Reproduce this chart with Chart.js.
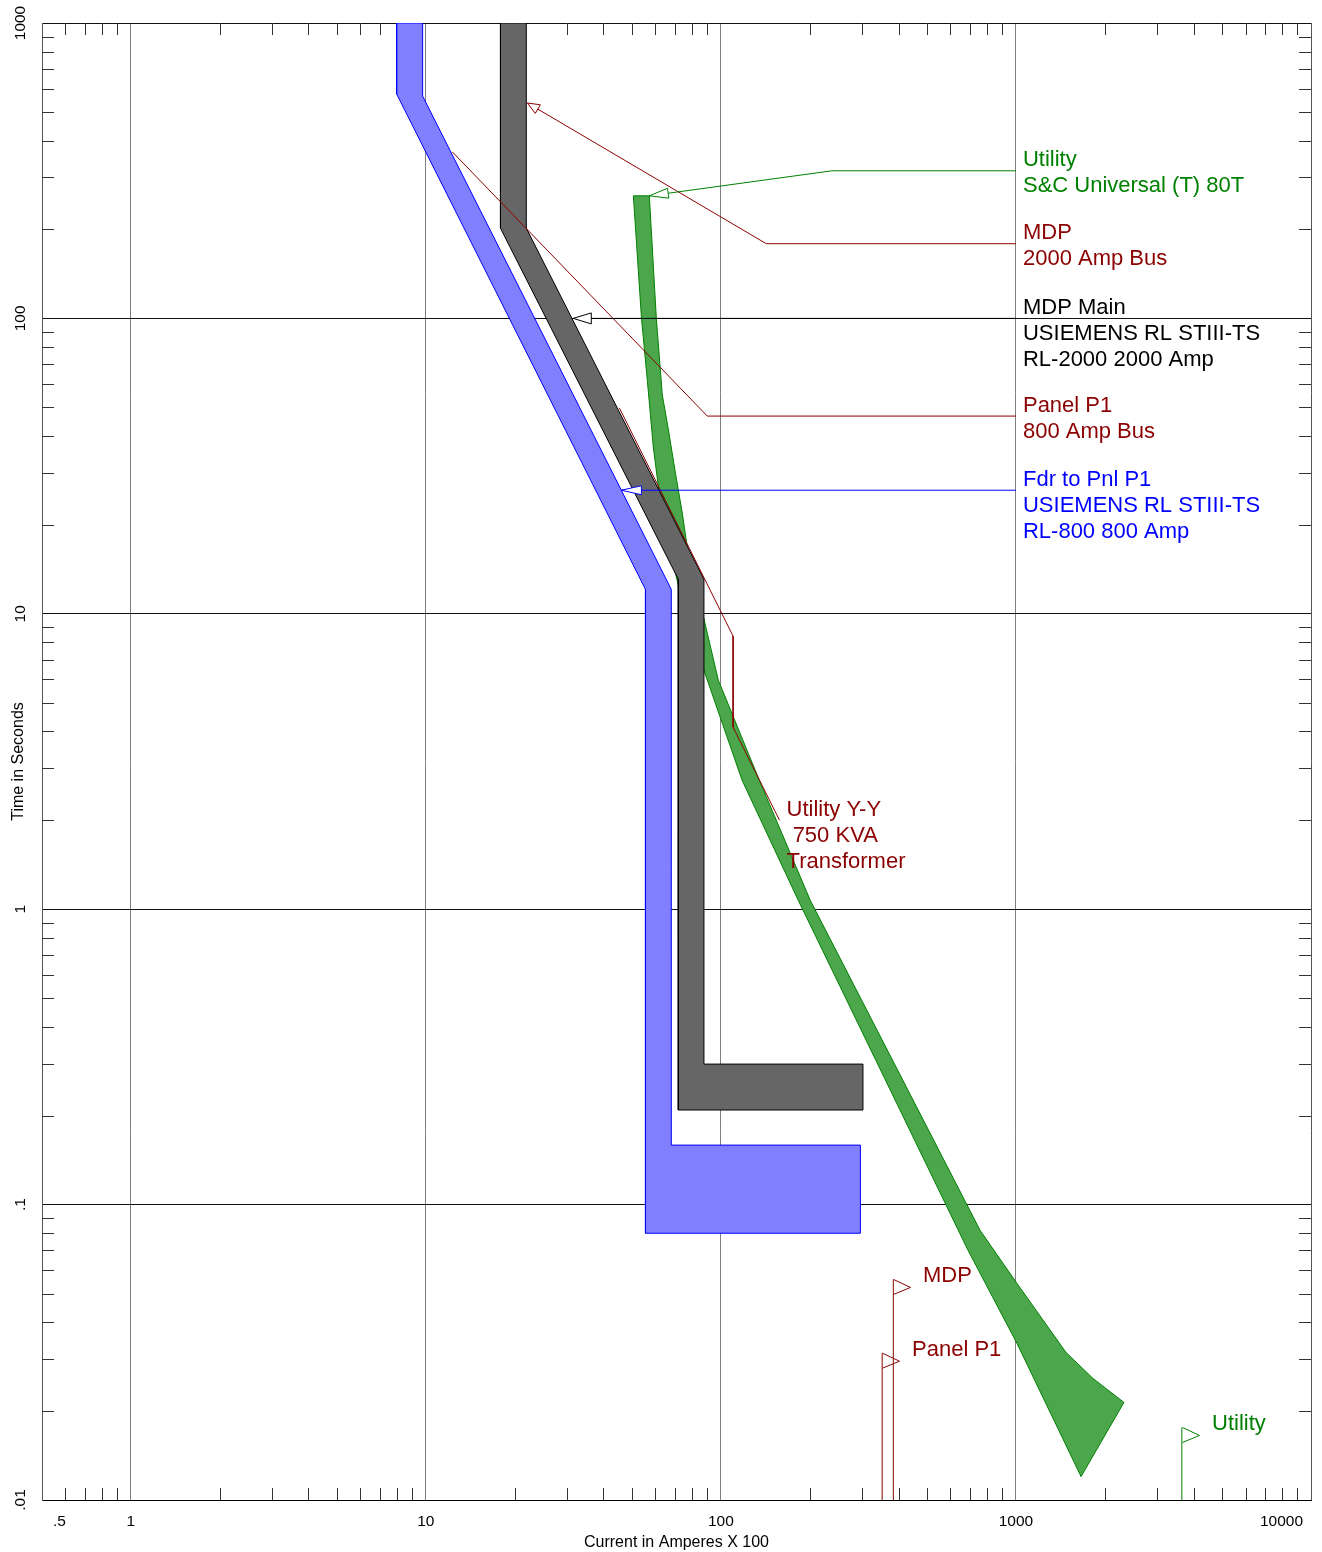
<!DOCTYPE html>
<html><head><meta charset="utf-8">
<script src="https://cdn.jsdelivr.net/npm/chart.js@4.4.1/dist/chart.umd.min.js"></script>
<style>html,body{margin:0;padding:0;background:#fff;}</style>
</head><body>
<canvas id="c" width="1322" height="1552"></canvas>
<script>
const FONT = '"Liberation Sans", Arial, sans-serif';
const GREEN = '#008000', RED = '#8b0000', BLUE = '#0000ff', BLACK = '#000000';

// ---- axes ----
const xMin = 0.5, xMax = 10000, yMin = 0.01, yMax = 1000;
const xTickValues = [0.5, 1, 10, 100, 1000, 10000];
const xTickLabels = ['.5', '1', '10', '100', '1000', '10000'];
const yTickValues = [0.01, 0.1, 1, 10, 100, 1000];
const yTickLabels = ['.01', '.1', '1', '10', '100', '1000'];
const xTitle = 'Current in Amperes X 100';
const yTitle = 'Time in Seconds';

// ---- Utility: S&C Universal (T) 80T fuse band (current x100 A, time s) ----
const utilFuseCurrent = [50.5, 53.8, 56.3, 59.0, 61.4, 64.8, 71.7, 85.2, 118, 183, 688, 1008, 1662,
                         2323, 1824, 1478, 1008, 756, 201, 135, 98.0, 89.9, 76.9, 74.0, 70.1, 66.4, 63.3, 60.4, 57.2, 50.5];
const utilFuseTime    = [260, 100.3, 61.8, 36.7, 26.9, 19.2, 12.5, 6.97, 2.73, 1.07, 0.070, 0.0339, 0.0120,
                         0.0214, 0.0258, 0.0316, 0.0541, 0.0818, 1.07, 2.73, 5.96, 8.60, 16.8, 21.9, 30.0, 41.9, 55.0, 100.3, 260, 260];

// ---- MDP Main: SIEMENS RL-2000 band ----
const mainCurrent = [17.9, 17.9, 71.7, 71.7, 303, 303, 87.6, 87.6, 21.9, 21.9, 17.9];
const mainTime    = [1000, 202, 13.1, 0.209, 0.209, 0.299, 0.299, 13.1, 202, 1000, 1000];

// ---- Fdr to Pnl P1: SIEMENS RL-800 band ----
const fdrCurrent = [7.96, 7.96, 55.5, 55.5, 297, 297, 67.9, 67.9, 9.75, 9.75, 7.96];
const fdrTime    = [1000, 575, 12.1, 0.080, 0.080, 0.159, 0.159, 12.1, 566, 1000, 1000];

// ---- Utility Y-Y 750 KVA transformer damage curve ----
const xfmrCurrent = [45.3, 110, 110, 158];
const xfmrTime    = [49.7, 8.4, 4.13, 2.0];
const xfmrLabel   = ['Utility Y-Y', ' 750 KVA', 'Transformer'];

// ---- label leaders ----
const utilLeaderCurrent = [1000, 238, 57.2];   const utilLeaderTime = [316, 316, 260];
const utilLabel = ['Utility', 'S&C Universal (T) 80T'];
const mdpBusLeaderCurrent = [1000, 142.5, 22.1]; const mdpBusLeaderTime = [179, 179, 536];
const mdpBusLabel = ['MDP', '2000 Amp Bus'];
const mainLeaderCurrent = [1000, 31.6];        const mainLeaderTime = [100, 100];
const mainLabel = ['MDP Main', 'USIEMENS RL STIII-TS', 'RL-2000 2000 Amp'];
const p1BusLeaderCurrent = [1000, 89.9, 12.3]; const p1BusLeaderTime = [46.7, 46.7, 366];
const p1BusLabel = ['Panel P1', '800 Amp Bus'];
const fdrLeaderCurrent = [1000, 46.0];         const fdrLeaderTime = [26.2, 26.2];
const fdrLabel = ['Fdr to Pnl P1', 'USIEMENS RL STIII-TS', 'RL-800 800 Amp'];

// ---- fault current flags ----
const faultNames   = ['MDP', 'Panel P1', 'Utility'];
const faultCurrent = [384, 352, 3650];
const faultFlagTop = [0.0558, 0.0314, 0.0176];
const faultColors  = [RED, RED, GREEN];

// ---- helpers ----
const pts = (xs, ys) => xs.map((x, i) => ({x, y: ys[i]}));
const ds = (label, xs, ys, opts) => Object.assign({
  label, data: pts(xs, ys), pointRadius: 0, pointHoverRadius: 0, borderWidth: 1,
  fill: false, tension: 0, backgroundColor: 'rgba(0,0,0,0)'
}, opts);

const datasets = [
  ds('Utility leader', utilLeaderCurrent, utilLeaderTime, {borderColor: GREEN, arrow: [19, 5], textLines: utilLabel, textAt: 'first'}),
  ds('MDP bus leader', mdpBusLeaderCurrent, mdpBusLeaderTime, {borderColor: RED, arrow: [12, 5], textLines: mdpBusLabel, textAt: 'first'}),
  ds('MDP Main leader', mainLeaderCurrent, mainLeaderTime, {borderColor: BLACK, arrow: [18, 5.5], textLines: mainLabel, textAt: 'first'}),
  ds('Panel P1 bus leader', p1BusLeaderCurrent, p1BusLeaderTime, {borderColor: RED, textLines: p1BusLabel, textAt: 'first'}),
  ds('Fdr leader', fdrLeaderCurrent, fdrLeaderTime, {borderColor: BLUE, arrow: [20, 4.5], textLines: fdrLabel, textAt: 'first'}),
  ds('Transformer damage', xfmrCurrent, xfmrTime, {borderColor: RED, textLines: xfmrLabel, textAt: 'last'}),
];
faultNames.forEach((n, i) => {
  datasets.push(ds(n + ' fault', [faultCurrent[i], faultCurrent[i]], [yMin, faultFlagTop[i]],
    {borderColor: faultColors[i], flag: n}));
});
datasets.push(ds('MDP Main', mainCurrent, mainTime, {borderColor: BLACK, backgroundColor: '#666666', fill: 'shape'}));
datasets.push(ds('Fdr to Pnl P1', fdrCurrent, fdrTime, {borderColor: BLUE, backgroundColor: '#8080ff', fill: 'shape'}));
datasets.push(ds('Utility fuse', utilFuseCurrent, utilFuseTime, {borderColor: GREEN, backgroundColor: '#4ca64c', fill: 'shape'}));

// minor tick positions (2..9 of each decade)
const minorX = [], minorY = [];
for (let e = -1; e <= 3; e++) for (let m = 2; m <= 9; m++) { const v = m * Math.pow(10, e); if (v > xMin * 1.001 && v < xMax) minorX.push(v); }
for (let e = -2; e <= 2; e++) for (let m = 2; m <= 9; m++) { minorY.push(m * Math.pow(10, e)); }

const decor = {
  id: 'decor',
  beforeDatasetsDraw(chart) {
    const {ctx, chartArea: a, scales: {x, y}} = chart;
    ctx.save();
    ctx.strokeStyle = '#333'; ctx.lineWidth = 1;
    ctx.beginPath();
    minorX.forEach(v => {
      const px = Math.round(x.getPixelForValue(v)) + 0.5;
      ctx.moveTo(px, a.top); ctx.lineTo(px, a.top + 12);
      ctx.moveTo(px, a.bottom); ctx.lineTo(px, a.bottom - 12);
    });
    minorY.forEach(v => {
      const py = Math.round(y.getPixelForValue(v)) + 0.5;
      ctx.moveTo(a.left, py); ctx.lineTo(a.left + 12, py);
      ctx.moveTo(a.right, py); ctx.lineTo(a.right - 12, py);
    });
    ctx.stroke();
    ctx.restore();
  },
  afterDatasetsDraw(chart) {
    const {ctx} = chart;
    ctx.save();
    chart.data.datasets.forEach((d, i) => {
      const meta = chart.getDatasetMeta(i);
      const el = meta.data;
      const n = el.length;
      if (d.arrow) {
        const tip = el[n - 1], from = el[n - 2];
        const dx = from.x - tip.x, dy = from.y - tip.y, L = Math.hypot(dx, dy);
        const ux = dx / L, uy = dy / L;
        const [len, half] = d.arrow;
        const bx = tip.x + ux * len, by = tip.y + uy * len;
        ctx.beginPath();
        ctx.moveTo(tip.x, tip.y);
        ctx.lineTo(bx - uy * half, by + ux * half);
        ctx.lineTo(bx + uy * half, by - ux * half);
        ctx.closePath();
        ctx.fillStyle = '#fff'; ctx.fill();
        ctx.strokeStyle = d.borderColor; ctx.lineWidth = 1; ctx.stroke();
      }
      if (d.flag) {
        const top = el[n - 1];
        const px = Math.round(top.x) + 0.5, py = top.y;
        ctx.beginPath();
        ctx.moveTo(px, py); ctx.lineTo(px + 17, py + 8); ctx.lineTo(px, py + 15);
        ctx.strokeStyle = d.borderColor; ctx.lineWidth = 1; ctx.stroke();
        ctx.font = '22px ' + FONT; ctx.fillStyle = d.borderColor;
        ctx.textAlign = 'left'; ctx.textBaseline = 'alphabetic';
        ctx.fillText(d.flag, px + 29.5, py + 2.5);
      }
      if (d.textLines) {
        const p = d.textAt === 'last' ? el[n - 1] : el[0];
        ctx.font = '22px ' + FONT; ctx.fillStyle = d.borderColor;
        ctx.textAlign = 'left'; ctx.textBaseline = 'alphabetic';
        d.textLines.forEach((t, k) => ctx.fillText(t, p.x + 7, p.y - 4.5 + 26 * k));
      }
    });
    ctx.restore();
  },
  afterDraw(chart) {
    const {ctx, chartArea: a, scales: {x, y}} = chart;
    ctx.save();
    ctx.fillStyle = '#000';
    ctx.font = '15.5px ' + FONT;
    ctx.textBaseline = 'alphabetic';
    xTickValues.forEach((v, i) => {
      const px = x.getPixelForValue(v);
      let align = 'center', off = 0;
      if (i === 0) { align = 'left'; off = 11; }
      else if (i === xTickValues.length - 1) { align = 'right'; off = -8; }
      ctx.textAlign = align;
      ctx.fillText(xTickLabels[i], px + off, a.bottom + 26);
    });
    yTickValues.forEach((v, i) => {
      const py = y.getPixelForValue(v);
      ctx.save();
      ctx.translate(a.left - 17, py);
      ctx.rotate(-Math.PI / 2);
      ctx.textAlign = 'center';
      ctx.fillText(yTickLabels[i], 0, 0);
      ctx.restore();
    });
    ctx.font = '16px ' + FONT;
    ctx.textAlign = 'center';
    ctx.fillText(xTitle, (a.left + a.right) / 2, a.bottom + 47);
    ctx.save();
    ctx.translate(23, (a.top + a.bottom) / 2);
    ctx.rotate(-Math.PI / 2);
    ctx.fillText(yTitle, 0, 0);
    ctx.restore();
    ctx.restore();
  }
};

const isDecade = v => Math.abs(Math.log10(v) - Math.round(Math.log10(v))) < 1e-6;

new Chart(document.getElementById('c'), {
  type: 'line',
  data: {datasets},
  options: {
    responsive: false,
    devicePixelRatio: 1,
    animation: false,
    events: [],
    parsing: true,
    layout: {padding: {left: 0, right: 11, top: 23, bottom: 0}},
    plugins: {legend: {display: false}, tooltip: {enabled: false}},
    scales: {
      x: {
        type: 'logarithmic', position: 'bottom', min: xMin, max: xMax,
        afterBuildTicks: s => { s.ticks = xTickValues.map(v => ({value: v})); },
        afterFit: s => { s.height = 52; },
        ticks: {display: false},
        grid: {
          drawTicks: false, lineWidth: 1,
          color: c => {
            const v = c.tick ? c.tick.value : 0;
            if (v === xMin || v === xMax) return '#555';
            return isDecade(v) ? '#808080' : 'rgba(0,0,0,0)';
          }
        },
        border: {display: true, color: '#000', width: 1}
      },
      y: {
        type: 'logarithmic', position: 'left', min: yMin, max: yMax,
        afterBuildTicks: s => { s.ticks = yTickValues.map(v => ({value: v})); },
        afterFit: s => { s.width = 42; },
        ticks: {display: false},
        grid: {drawTicks: false, lineWidth: 1, color: '#111'},
        border: {display: true, color: '#555', width: 1}
      }
    }
  },
  plugins: [decor]
});
</script>
</body></html>
